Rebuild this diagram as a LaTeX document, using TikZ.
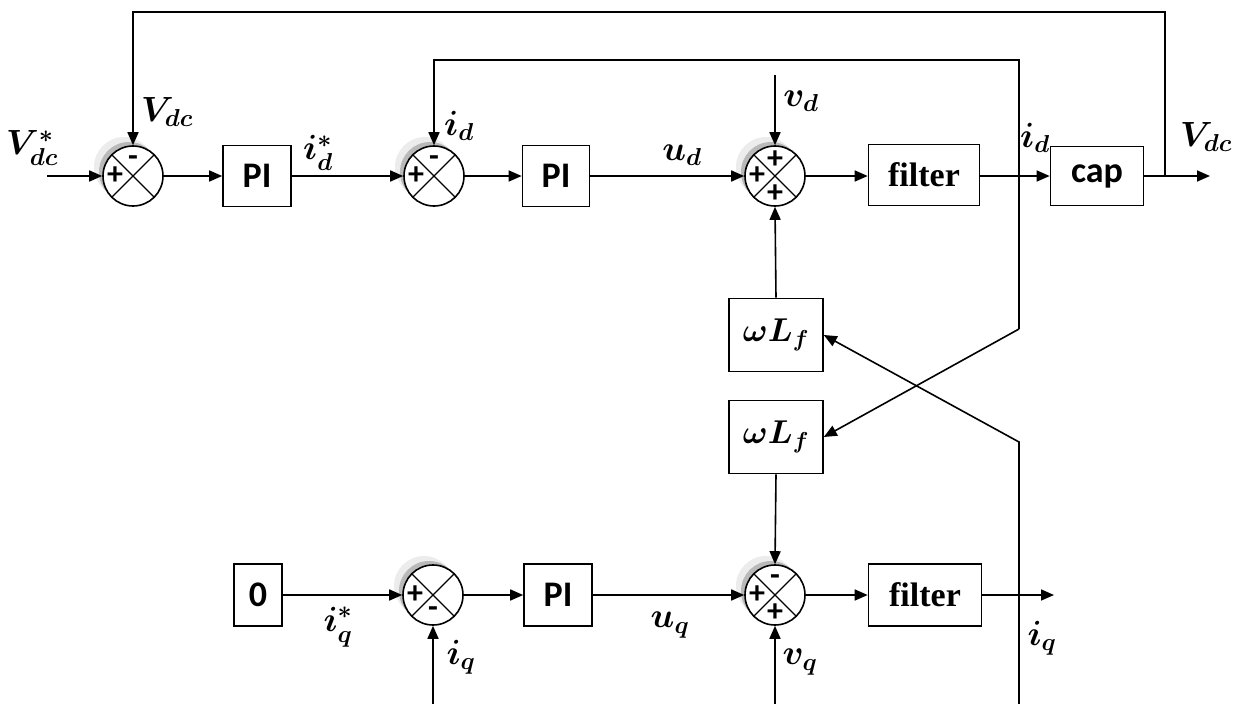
\RequirePackage{fix-cm}
\documentclass[tikz,border=0pt]{standalone}
\usepackage{fontspec}
\newfontfamily\carlito{Carlito}
\newfontfamily\lserif{Liberation Serif}
\usetikzlibrary{arrows.meta,shadows}
\begin{document}
\begin{tikzpicture}[x=1pt,y=-1pt,
  line width=1.6pt,
  >={Triangle[length=13pt,width=11pt]},
  blk/.style={draw, rectangle, inner sep=0pt, fill=white},
  sansbox/.style={blk, font=\carlito\bfseries\fontsize{36}{40}\selectfont},
  serifbox/.style={blk, font=\lserif\bfseries\fontsize{34}{38}\selectfont},
  mathbox/.style={blk, font=\fontsize{33}{37}\selectfont\boldmath},
  lbl/.style={inner sep=0pt, font=\fontsize{35}{39}\selectfont\boldmath},
  sgn/.style={inner sep=0pt, font=\carlito\bfseries\fontsize{32}{32}\selectfont},
  sumj/.style={circle, draw, fill=white, minimum size=60pt, inner sep=0pt,
     general shadow={fill=gray!15, shadow xshift=-9pt, shadow yshift=9pt},
     general shadow={fill=gray!55, shadow xshift=-4pt, shadow yshift=4pt},
     path picture={\draw[line width=1.2pt]
        (path picture bounding box.north west) -- (path picture bounding box.south east)
        (path picture bounding box.north east) -- (path picture bounding box.south west);}}
]
\useasboundingbox (0,0) rectangle (1235,704);

% ---- top row ----
\node[sumj] (s1) at (133,176) {};
\node[sansbox, minimum width=68pt, minimum height=61pt] (pi1) at (257,176) {PI};
\node[sumj] (s2) at (434,176) {};
\node[sansbox, minimum width=67pt, minimum height=61pt] (pi2) at (556,176) {PI};
\node[sumj] (s3) at (775,176) {};
\node[serifbox, minimum width=111pt, minimum height=61pt] (f1) at (924,175) {filter};
\node[sansbox, minimum width=93pt, minimum height=59pt] (cap) at (1097,176) {cap};

% ---- cross-coupling ----
\node[mathbox, minimum width=94pt, minimum height=73pt] (w1) at (776,335) {$\omega L_f$};
\node[mathbox, minimum width=94pt, minimum height=73pt] (w2) at (776,437) {$\omega L_f$};

% ---- bottom row ----
\node[sansbox, minimum width=48pt, minimum height=62pt] (z) at (258,595) {0};
\node[sumj] (s5) at (433,595) {};
\node[sansbox, minimum width=68pt, minimum height=62pt] (pi3) at (558,595) {PI};
\node[sumj] (s6) at (775,595) {};
\node[serifbox, minimum width=113pt, minimum height=62pt] (f2) at (925,595) {filter};

% ---- signs ----
\node[sgn] (s1a) at ([xshift=-18pt]s1.center) {+};
\node[sgn] (s1b) at ([yshift=15pt]s1.center) {-};
\node[sgn] (s2a) at ([xshift=-18pt]s2.center) {+};
\node[sgn] (s2b) at ([yshift=15pt]s2.center) {-};
\node[sgn] (s3a) at ([xshift=-18pt]s3.center) {+};
\node[sgn] (s3b) at ([yshift=16pt]s3.center) {+};
\node[sgn] (s3c) at ([yshift=-18pt]s3.center) {+};
\node[sgn] (s5a) at ([xshift=-18pt]s5.center) {+};
\node[sgn] (s5b) at ([yshift=-17pt]s5.center) {-};
\node[sgn] (s6a) at ([xshift=-18pt]s6.center) {+};
\node[sgn] (s6b) at ([yshift=15pt]s6.center) {-};
\node[sgn] (s6c) at ([yshift=-18pt]s6.center) {+};

% ---- free ends ----
\coordinate (in1) at (47,176);
\coordinate (out1) at (1210,176);
\coordinate (j1) at (1165,176);
\coordinate (t1) at (1165,12);
\coordinate (d1) at (1019,329);
\coordinate (d0) at (1019,60);
\coordinate (q1) at (1019,442);
\coordinate (q0) at (1019,704);
\coordinate (vd) at (775,75);
\coordinate (iq) at (433,704);
\coordinate (vq) at (775,704);
\coordinate (out2) at (1054,595);

% ---- connectors ----
\draw[->] (in1) -- (s1.west);
\draw[->] (s1.east) -- (pi1.west);
\draw[->] (pi1.east) -- (s2.west);
\draw[->] (s2.east) -- (pi2.west);
\draw[->] (pi2.east) -- (s3.west);
\draw[->] (s3.east) -- (f1.west |- s3.east);
\draw[->] (f1.east |- cap.west) -- (cap.west);
\draw[->] (cap.east) -- (out1);
\draw[->] (j1) -- (t1) -| (s1.north);
\draw[->] (d1) -- (d0) -| (s2.north);
\draw[->] (d1) -- (w2.east);
\draw[->] (q0) -- (q1) -- (w1.east);
\draw[->] (vd) -- (s3.north);
\draw[->] (w1.north) -- (s3.south);
\draw[->] (w2.south) -- (s6.north);
\draw[->] (z.east) -- (s5.west);
\draw[->] (iq) -- (s5.south);
\draw[->] (s5.east) -- (pi3.west);
\draw[->] (pi3.east) -- (s6.west);
\draw[->] (vq) -- (s6.south);
\draw[->] (s6.east) -- (f2.west);
\draw[->] (f2.east) -- (out2);

% ---- labels ----
\node[lbl] (l1) at (32,148) {$V^{*}_{dc}$};
\node[lbl] (l2) at (167,112) {$V_{dc}$};
\node[lbl] (l3) at (318,153) {$i^{*}_{d}$};
\node[lbl] (l4) at (459,126) {$i_{d}$};
\node[lbl] (l5) at (682,155) {$u_{d}$};
\node[lbl] (l6) at (801,101) {$v_{d}$};
\node[lbl] (l7) at (1035,138) {$i_{d}$};
\node[lbl] (l8) at (1206,137) {$V_{dc}$};
\node[lbl] (l9) at (338,627) {$i^{*}_{q}$};
\node[lbl] (l10) at (461,657) {$i_{q}$};
\node[lbl] (l11) at (670,625) {$u_{q}$};
\node[lbl] (l12) at (800,662) {$v_{q}$};
\node[lbl] (l13) at (1042,638) {$i_{q}$};
\end{tikzpicture}
\end{document}
